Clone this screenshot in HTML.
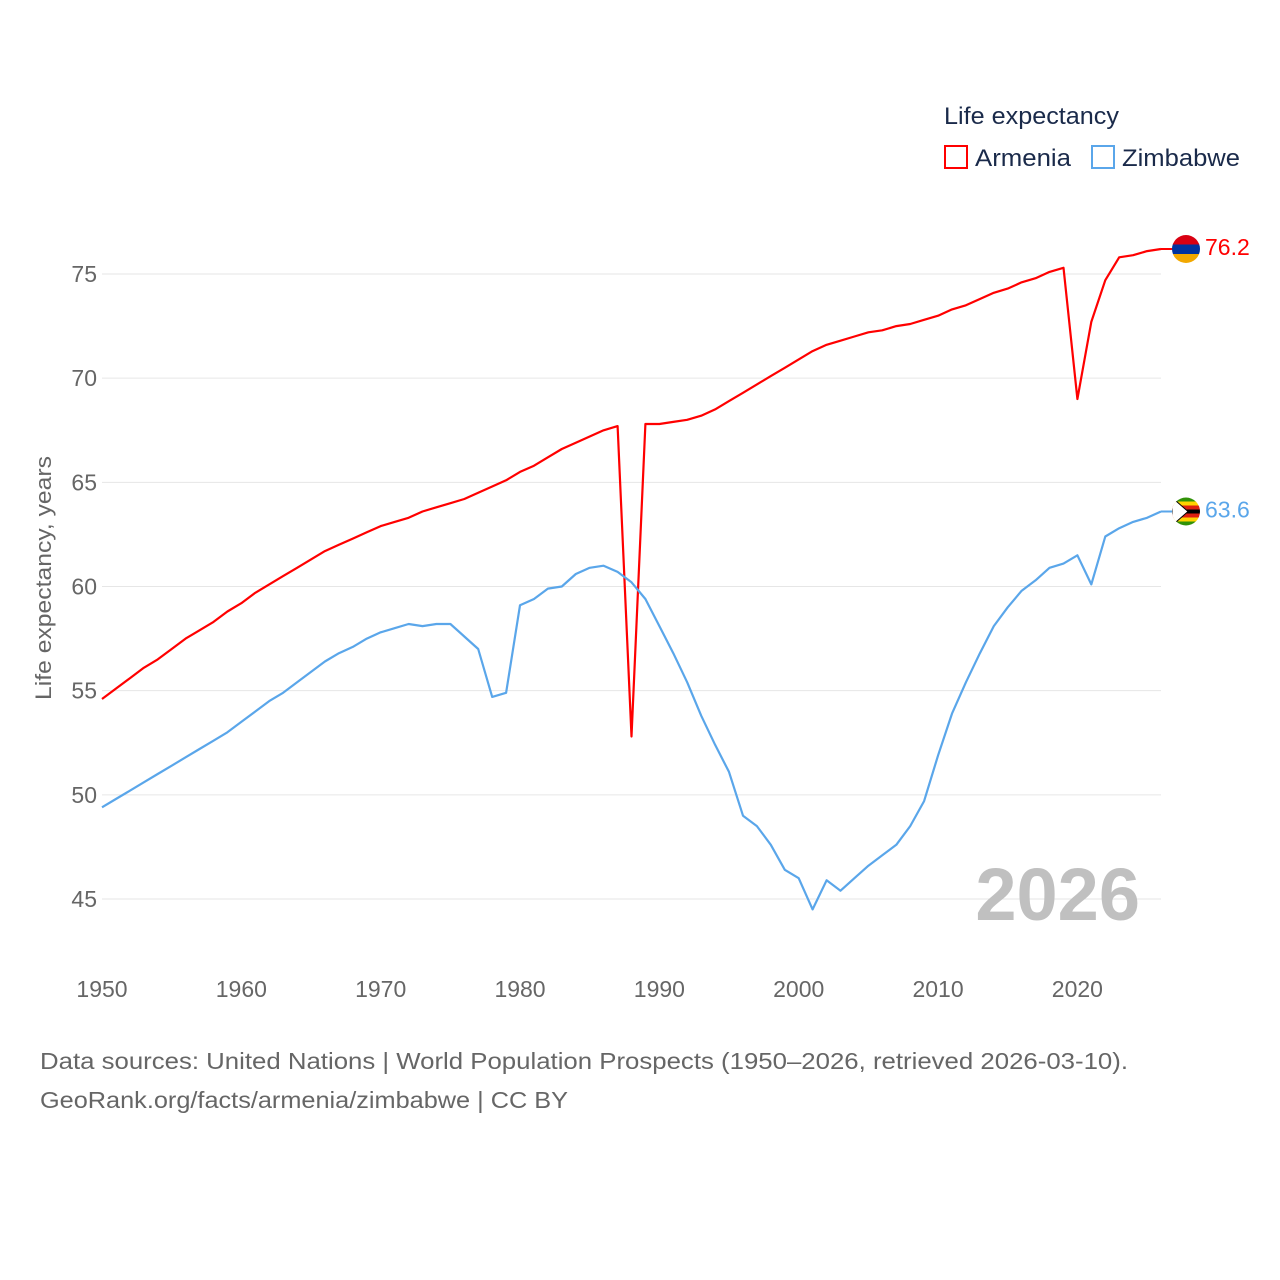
<!DOCTYPE html>
<html><head><meta charset="utf-8"><style>
body{margin:0;background:#fff;}
svg{display:block;font-family:"Liberation Sans",Lato,sans-serif;}
</style></head><body>
<svg id="chart" width="1280" height="1280">
<g id="grid"></g>
<g id="yt"></g>
<g id="xt"></g>
<text transform="translate(51,578) rotate(-90)" text-anchor="middle" font-size="22" fill="#666" textLength="244" lengthAdjust="spacingAndGlyphs">Life expectancy, years</text>
<text x="1140" y="920" text-anchor="end" font-size="74" font-weight="bold" fill="#c0c0c0">2026</text>
<g id="series"></g>
<g>
<text x="944" y="124" font-size="24" fill="#1a2a4a" textLength="175" lengthAdjust="spacingAndGlyphs">Life expectancy</text>
<rect x="945" y="146" width="22" height="22" fill="none" stroke="#f00" stroke-width="2"/>
<text x="975" y="166" font-size="24" fill="#1a2a4a" textLength="96" lengthAdjust="spacingAndGlyphs">Armenia</text>
<rect x="1092" y="146" width="22" height="22" fill="none" stroke="#5aa6ea" stroke-width="2"/>
<text x="1122" y="166" font-size="24" fill="#1a2a4a" textLength="118" lengthAdjust="spacingAndGlyphs">Zimbabwe</text>
</g>
<text x="40" y="1069" font-size="23" fill="#666" textLength="1088" lengthAdjust="spacingAndGlyphs">Data sources: United Nations | World Population Prospects (1950–2026, retrieved 2026-03-10).</text>
<text x="40" y="1108" font-size="23" fill="#666" textLength="528" lengthAdjust="spacingAndGlyphs">GeoRank.org/facts/armenia/zimbabwe | CC BY</text>
</svg>
<script>
const years=[];for(let y=1950;y<=2026;y++)years.push(y);
const armenia=[54.6,55.1,55.6,56.1,56.5,57.0,57.5,57.9,58.3,58.8,59.2,59.7,60.1,60.5,60.9,61.3,61.7,62.0,62.3,62.6,62.9,63.1,63.3,63.6,63.8,64.0,64.2,64.5,64.8,65.1,65.5,65.8,66.2,66.6,66.9,67.2,67.5,67.7,52.8,67.8,67.8,67.9,68.0,68.2,68.5,68.9,69.3,69.7,70.1,70.5,70.9,71.3,71.6,71.8,72.0,72.2,72.3,72.5,72.6,72.8,73.0,73.3,73.5,73.8,74.1,74.3,74.6,74.8,75.1,75.3,69.0,72.7,74.7,75.8,75.9,76.1,76.2];
const zimbabwe=[49.4,49.8,50.2,50.6,51.0,51.4,51.8,52.2,52.6,53.0,53.5,54.0,54.5,54.9,55.4,55.9,56.4,56.8,57.1,57.5,57.8,58.0,58.2,58.1,58.2,58.2,57.6,57.0,54.7,54.9,59.1,59.4,59.9,60.0,60.6,60.9,61.0,60.7,60.2,59.4,58.1,56.8,55.4,53.8,52.4,51.1,49.0,48.5,47.6,46.4,46.0,44.5,45.9,45.4,46.0,46.6,47.1,47.6,48.5,49.7,51.9,53.9,55.4,56.8,58.1,59.0,59.8,60.3,60.9,61.1,61.5,60.1,62.4,62.8,63.1,63.3,63.6];
const yTicks=[45,50,55,60,65,70,75];
const xTicks=[1950,1960,1970,1980,1990,2000,2010,2020];
const NS='http://www.w3.org/2000/svg';
const x=v=>102+(v-1950)*(1161-102)/76;
const y=v=>274+(75-v)*625/30;
function mk(t,a,p){const e=document.createElementNS(NS,t);for(const k in a)e.setAttribute(k,a[k]);p.appendChild(e);return e;}
const grid=document.getElementById('grid'),yt=document.getElementById('yt'),xt=document.getElementById('xt'),ser=document.getElementById('series');
yTicks.forEach(v=>{
 const l=mk('line',{x1:102,x2:1161,y1:y(v),y2:y(v),stroke:'#e6e6e6','stroke-width':1},grid);
 
 
 const t=mk('text',{x:97,y:y(v)+8,'text-anchor':'end','font-size':23,fill:'#666'},yt);t.textContent=v;
 
 
});
xTicks.forEach(v=>{
 const t=mk('text',{x:x(v),y:997,'text-anchor':'middle','font-size':23,fill:'#666'},xt);t.textContent=v;
 
 
});
function line(data,color,name){
 const d=data.map((v,i)=>(i?'L':'M')+x(years[i]).toFixed(1)+','+y(v).toFixed(1)).join('');
 const p=mk('path',{d:d,fill:'none',stroke:color,'stroke-width':2.2,'stroke-linejoin':'round'},ser);
 
 
 const last=data[data.length-1],ly=y(last);
 mk('line',{x1:1161,x2:1176,y1:ly,y2:ly,stroke:color,'stroke-width':2},ser);
 const g=mk('g',{},ser);
 
 
 return {ly,last,g};
}
const a=line(armenia,'#ff0000','armenia');
const cx=1186;
const ca=mk('clipPath',{id:'ca'},a.g);mk('circle',{cx:cx,cy:a.ly,r:14},ca);
const ga=mk('g',{'clip-path':'url(#ca)'},a.g);
mk('rect',{x:cx-14,y:a.ly-14,width:28,height:10,fill:'#d90012'},ga);
mk('rect',{x:cx-14,y:a.ly-4.5,width:28,height:9.5,fill:'#0033a0'},ga);
mk('rect',{x:cx-14,y:a.ly+5,width:28,height:10,fill:'#f2a800'},ga);
const ta=mk('text',{x:1205,y:a.ly+6,'font-size':23,fill:'#ff0000'},ser);ta.textContent=a.last.toFixed(1);


const z=line(zimbabwe,'#5aa6ea','zimbabwe');
const cz=mk('clipPath',{id:'cz'},z.g);mk('circle',{cx:cx,cy:z.ly,r:14},cz);
const gz=mk('g',{'clip-path':'url(#cz)'},z.g);
['#319208','#ffd200','#de2010','#000','#de2010','#ffd200','#319208'].forEach((c,i)=>mk('rect',{x:cx-14,y:z.ly-14+i*4,width:28,height:4.1,fill:c},gz));
mk('polygon',{points:`${cx-14},${z.ly-14} ${cx+2},${z.ly} ${cx-14},${z.ly+14}`,fill:'#fff',stroke:'#000','stroke-width':1},gz);
const tz=mk('text',{x:1205,y:z.ly+6,'font-size':23,fill:'#5aa6ea'},ser);tz.textContent=z.last.toFixed(1);


</script>
</body></html>
